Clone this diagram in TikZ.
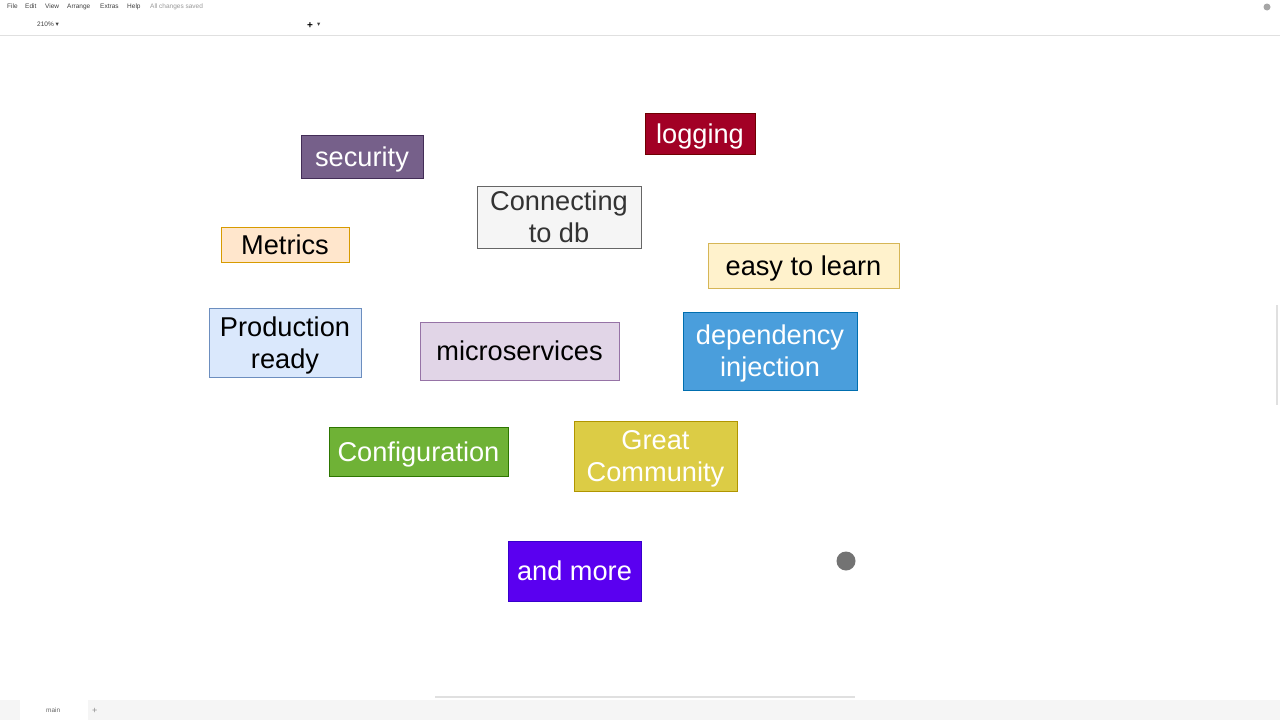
\documentclass[tikz,border=0pt]{standalone}
\usepackage{fontspec}
\setmainfont{Liberation Sans}
\newfontfamily\symfont{DejaVu Sans}
\begin{document}
\begin{tikzpicture}[x=1pt,y=-1pt,
  box/.style={draw, line width=0.8pt, inner sep=0pt, align=center,
    text depth=0pt, font=\fontsize{27.2}{32}\selectfont},
  ui/.style={font=\fontsize{6.5}{7}\selectfont, text=black!75, anchor=base west, inner sep=0pt},
  uigray/.style={ui, text=black!40}]
\definecolor{cSec}{HTML}{76608A}\definecolor{sSec}{HTML}{432D57}
\definecolor{cLog}{HTML}{A20025}\definecolor{sLog}{HTML}{6F0000}
\definecolor{cDb}{HTML}{F5F5F5}\definecolor{sDb}{HTML}{666666}
\definecolor{cMet}{HTML}{FFE6CC}\definecolor{sMet}{HTML}{D79B00}
\definecolor{cEasy}{HTML}{FFF2CC}\definecolor{sEasy}{HTML}{D6B656}
\definecolor{cProd}{HTML}{DAE8FC}\definecolor{sProd}{HTML}{6C8EBF}
\definecolor{cMicro}{HTML}{E1D5E7}\definecolor{sMicro}{HTML}{9673A6}
\definecolor{cDep}{HTML}{4A9EDC}\definecolor{sDep}{HTML}{006EAF}
\definecolor{cConf}{HTML}{6FB236}\definecolor{sConf}{HTML}{2D7600}
\definecolor{cGreat}{HTML}{DCCC45}\definecolor{sGreat}{HTML}{B09500}
\definecolor{cMore}{HTML}{5A00F0}\definecolor{sMore}{HTML}{3700CC}
\definecolor{uiBar}{HTML}{F5F5F5}
\useasboundingbox (0,0) rectangle (1280,720);
\fill[white] (0,0) rectangle (1280,720);
% top bars
\draw[black!12] (0,35.5) -- (1280,35.5);
\node[ui] (mFile) at (7,9) {File};
\node[ui] (mEdit) at (25,9) {Edit};
\node[ui] (mView) at (45,9) {View};
\node[ui] (mArr) at (67,9) {Arrange};
\node[ui] (mExt) at (100,9) {Extras};
\node[ui] (mHelp) at (127,9) {Help};
\node[uigray] (mSaved) at (150,9) {All changes saved};
\node[ui] (mZoom) at (37,27) {210\% {\symfont ▾}};
\node[ui, font=\fontsize{10}{10}\selectfont\bfseries, text=black] (mPlus) at (307,28) {+};
\node[ui] (mPlusArrow) at (317,27) {{\symfont ▾}};
\fill[black!35] (1267,7) circle (3.5);
% bottom bar
\fill[uiBar] (0,700) rectangle (1280,720);
\fill[white] (20,700) rectangle (88,720);
\node[ui, text=black!60] (mMain) at (46,712) {main};
\node[ui, text=black!45, font=\fontsize{9}{9}\selectfont] (mAdd) at (92,713) {+};
\draw[black!12, line width=2pt] (435,697) -- (855,697);
\draw[black!12, line width=2pt] (1277,305) -- (1277,405);
% boxes
\node[box, fill=cSec, draw=sSec, text=white, minimum width=122, minimum height=43] (security) at (362,156.5) {security};
\node[box, fill=cLog, draw=sLog, text=white, minimum width=110, minimum height=41] (logging) at (700,133.5) {logging};
\node[box, fill=cDb, draw=sDb, text=black!80, minimum width=164, minimum height=62] (db) at (559,217) {Connecting\\to db};
\node[box, fill=cMet, draw=sMet, text=black, minimum width=128, minimum height=35] (metrics) at (285,244.5) {Metrics};
\node[box, fill=cEasy, draw=sEasy, text=black, minimum width=191, minimum height=45] (easy) at (803.5,265.5) {easy to learn};
\node[box, fill=cProd, draw=sProd, text=black, minimum width=152, minimum height=69] (prod) at (285,342.5) {Production\\ready};
\node[box, fill=cMicro, draw=sMicro, text=black, minimum width=199, minimum height=58] (micro) at (519.5,351) {microservices};
\node[box, fill=cDep, draw=sDep, text=white, minimum width=174, minimum height=78] (dep) at (770,351) {dependency\\injection};
\node[box, fill=cConf, draw=sConf, text=white, minimum width=179, minimum height=49] (conf) at (418.5,451.5) {Configuration};
\node[box, fill=cGreat, draw=sGreat, text=white, minimum width=163, minimum height=70] (great) at (655.5,456) {Great\\Community};
\node[box, fill=cMore, draw=sMore, text=white, minimum width=133, minimum height=60] (more) at (574.5,571) {and more};
% cursor
\fill[black!55] (846,561) circle (9.5);
\end{tikzpicture}
\end{document}
